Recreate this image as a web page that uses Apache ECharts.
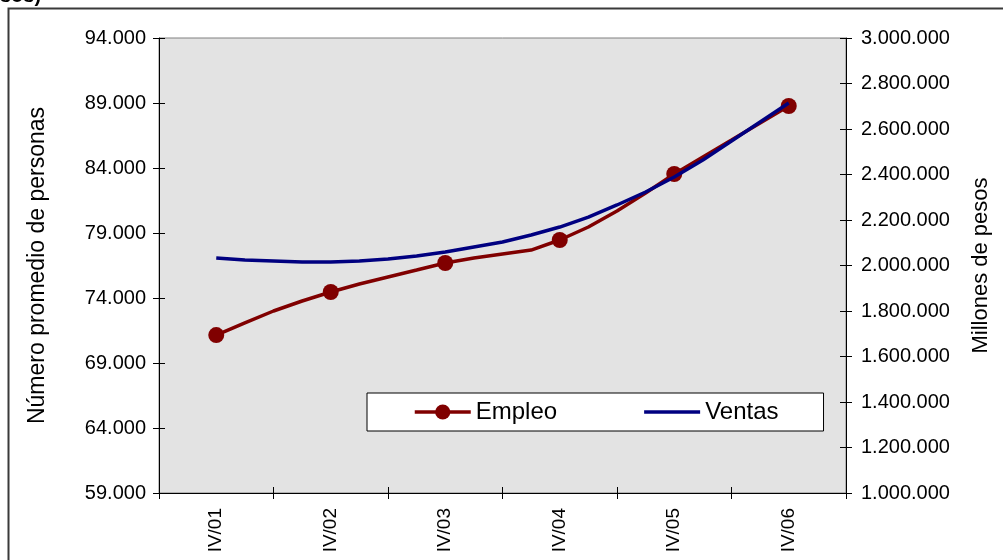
<!DOCTYPE html>
<html>
<head>
<meta charset="utf-8">
<script src="https://cdn.jsdelivr.net/npm/echarts@6/dist/echarts.min.js"></script>
<style>
  html, body { margin: 0; padding: 0; background: #fff; }
  #chart { width: 1003px; height: 560px; }
</style>
</head>
<body>
<div id="chart"></div>
<script>
// trimestres IV/01 ... IV/06
const quarters = [
  "IV/01",
  "I/02", "II/02", "III/02", "IV/02",
  "I/03", "II/03", "III/03", "IV/03",
  "I/04", "II/04", "III/04", "IV/04",
  "I/05", "II/05", "III/05", "IV/05",
  "I/06", "II/06", "III/06", "IV/06",
];
// numero promedio de personas
const empleo = [
  71150,
  72080, 73000, 73770, 74460,
  75080, 75620, 76150, 76690,
  77080, 77390, 77690, 78460,
  79460, 80690, 82080, 83540,
  84850, 86150, 87460, 88770,
];
// millones de pesos
const ventas = [
  2033000,
  2024000, 2020000, 2015000, 2015000,
  2020000, 2029000, 2042000, 2059000,
  2081000, 2103000, 2134000, 2169000,
  2213000, 2266000, 2323000, 2389000,
  2464000, 2547000, 2631000, 2714000,
];

// dos huecos a cada lado para que IV/xx quede centrado entre marcas
const xCats = [" ", "  "].concat(quarters).concat(["   ", "    "]);

const fontFamily = "Liberation Sans, Arial, sans-serif";
const miles = (v) => String(v).replace(/\B(?=(\d{3})+(?!\d))/g, ".");

const chart = echarts.init(document.getElementById("chart"));

const leftAxis = { min: 59000, max: 94000, interval: 5000 };
const rightAxis = { min: 1000000, max: 3000000, interval: 200000 };

const option = {
  animation: false,
  textStyle: { fontFamily: fontFamily, color: "#000" },
  grid: {
    left: 159,
    right: 157,
    top: 38,
    bottom: 67,
    show: true,
    backgroundColor: "#e3e3e3",
    borderColor: "#808080",
    borderWidth: 1,
  },
  legend: {
    left: 367,
    top: 393,
    orient: "horizontal",
    backgroundColor: "#fff",
    borderColor: "#000",
    borderWidth: 1,
    borderRadius: 0,
    padding: [7, 45, 7, 46],
    itemWidth: 56,
    itemHeight: 19,
    itemGap: 87,
    lineStyle: { width: 3.5 },
    textStyle: { fontSize: 24, color: "#000", fontFamily: fontFamily },
    data: [
      { name: "Empleo" },
      { name: "Ventas", icon: "path://M0,0H56V3.5H0Z" },
    ],
  },
  xAxis: [
    {
      type: "category",
      data: xCats,
      boundaryGap: false,
      axisLine: { lineStyle: { color: "#000", width: 1 } },
      axisTick: {
        length: 6,
        interval: (i) => i % 4 === 0,
        lineStyle: { color: "#000" },
      },
      axisLabel: {
        interval: (i) => i % 4 === 2,
        rotate: 90,
        margin: 15,
        fontSize: 19,
        color: "#000",
        fontFamily: fontFamily,
      },
      splitLine: { show: false },
    },
    {
      type: "category",
      data: xCats,
      boundaryGap: false,
      position: "bottom",
      axisLine: { show: false },
      axisTick: {
        inside: true,
        length: 6,
        interval: (i) => i % 4 === 0,
        lineStyle: { color: "#000" },
      },
      axisLabel: { show: false },
      splitLine: { show: false },
    },
  ],
  yAxis: [
    {
      type: "value",
      position: "left",
      min: leftAxis.min,
      max: leftAxis.max,
      interval: leftAxis.interval,
      name: "Número promedio de personas",
      nameLocation: "middle",
      nameGap: 110,
      nameTextStyle: { fontSize: 23, color: "#000", fontFamily: fontFamily },
      axisLine: { show: true, lineStyle: { color: "#000", width: 1 } },
      axisTick: { show: true, length: 6, lineStyle: { color: "#000" } },
      axisLabel: {
        margin: 13,
        fontSize: 20,
        color: "#000",
        formatter: miles,
      },
      splitLine: { show: false },
    },
    {
      type: "value",
      position: "right",
      min: rightAxis.min,
      max: rightAxis.max,
      interval: rightAxis.interval,
      name: "Millones de pesos",
      nameLocation: "middle",
      nameGap: 124,
      nameRotate: 90,
      nameTextStyle: { fontSize: 22, color: "#000", fontFamily: fontFamily },
      axisLine: { show: true, lineStyle: { color: "#000", width: 1 } },
      axisTick: { show: true, length: 6, lineStyle: { color: "#000" } },
      axisLabel: {
        margin: 15,
        fontSize: 20,
        color: "#000",
        formatter: miles,
      },
      splitLine: { show: false },
    },
    {
      type: "value",
      position: "left",
      min: leftAxis.min,
      max: leftAxis.max,
      interval: leftAxis.interval,
      axisLine: { show: false },
      axisTick: { show: true, inside: true, length: 6, lineStyle: { color: "#000" } },
      axisLabel: { show: false },
      splitLine: { show: false },
    },
    {
      type: "value",
      position: "right",
      min: rightAxis.min,
      max: rightAxis.max,
      interval: rightAxis.interval,
      axisLine: { show: false },
      axisTick: { show: true, inside: true, length: 6, lineStyle: { color: "#000" } },
      axisLabel: { show: false },
      splitLine: { show: false },
    },
  ],
  series: [
    {
      name: "Empleo",
      type: "line",
      yAxisIndex: 0,
      z: 2,
      symbol: "circle",
      symbolSize: 16,
      showAllSymbol: true,
      lineStyle: { color: "#800000", width: 3.5 },
      itemStyle: { color: "#800000" },
      data: empleo.map((v, i) => ({
        value: [quarters[i], v],
        symbol: i % 4 === 0 ? "circle" : "none",
      })),
    },
    {
      name: "Ventas",
      type: "line",
      yAxisIndex: 1,
      z: 3,
      symbol: "none",
      lineStyle: { color: "#000080", width: 3.5 },
      itemStyle: { color: "#000080" },
      data: ventas.map((v, i) => [quarters[i], v]),
    },
  ],
  graphic: [
    {
      type: "rect",
      left: 6,
      top: 6,
      shape: { width: 1100, height: 700 },
      style: { fill: "none", stroke: "#3a3a3a", lineWidth: 2 },
      silent: true,
      z: -1,
    },
    {
      type: "text",
      x: 0,
      y: 6,
      style: {
        text: "sos)",
        font: "bold 20px " + fontFamily,
        fill: "#000",
        verticalAlign: "bottom",
      },
      silent: true,
    },
  ],
};

chart.setOption(option);
</script>
</body>
</html>
